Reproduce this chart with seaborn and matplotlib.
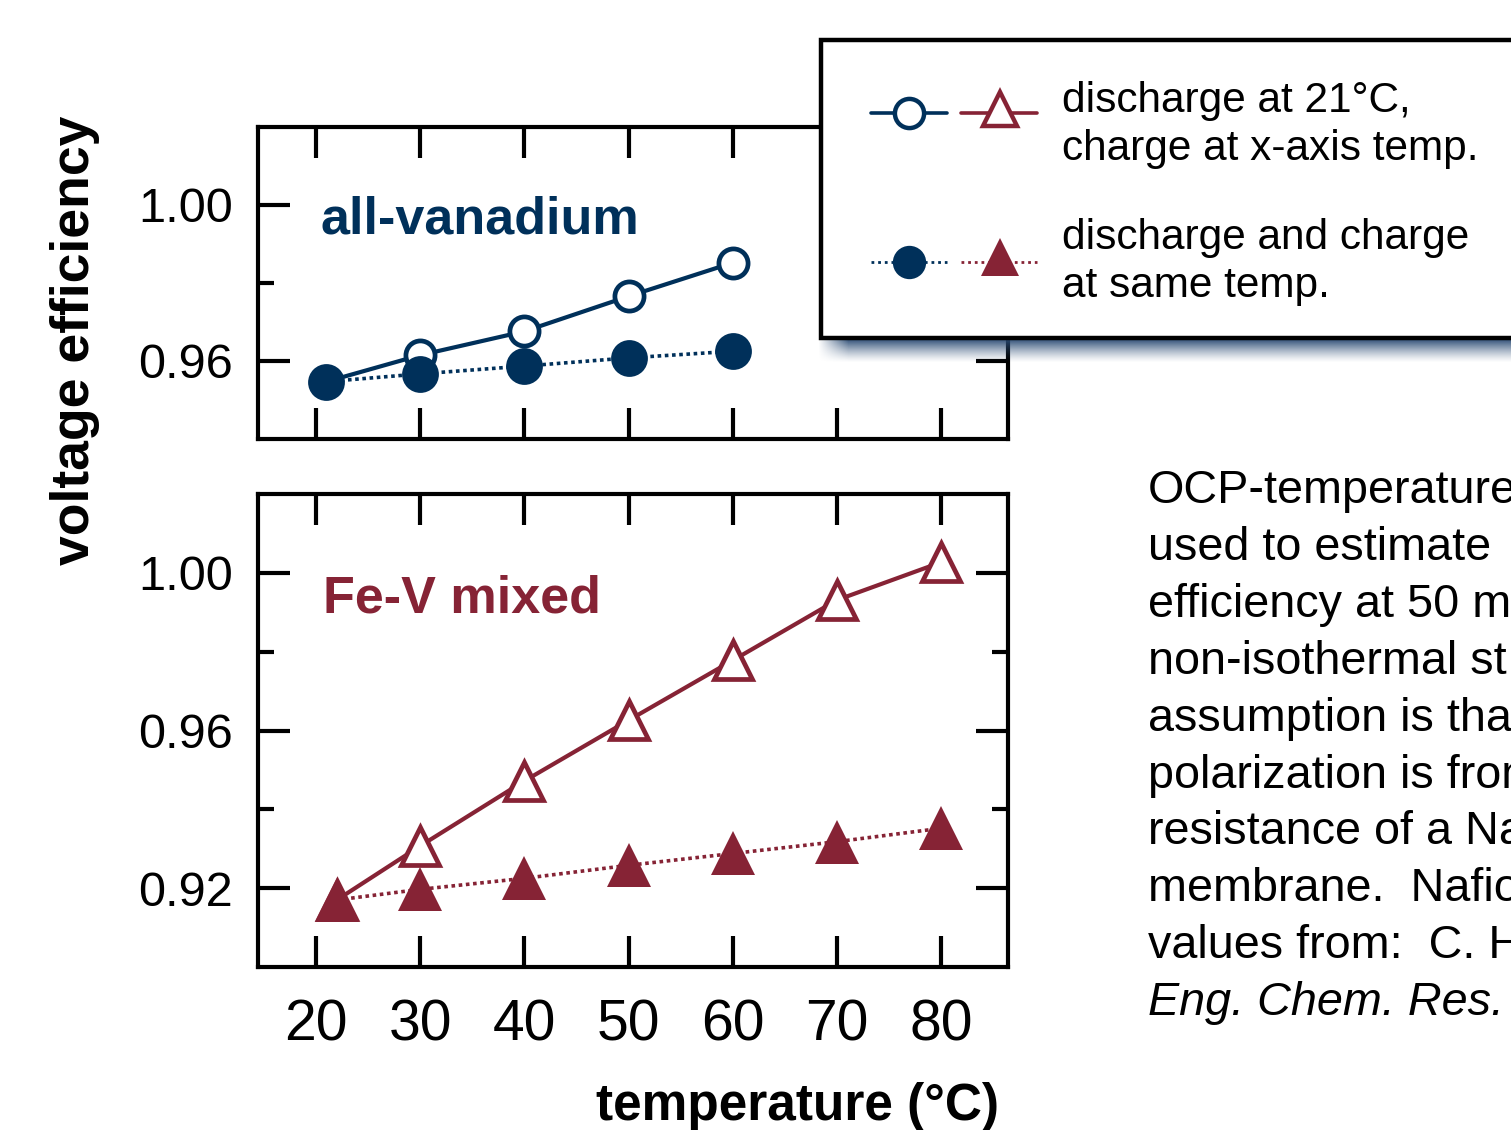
import numpy as np
import pandas as pd
import matplotlib
matplotlib.use("Agg")
import matplotlib.pyplot as plt
import seaborn as sns
from matplotlib.patches import Rectangle
from matplotlib.ticker import FixedLocator, FormatStrFormatter

# ---------------- data ----------------
temps_v = [21, 30, 40, 50, 60]
v_open = [0.9547, 0.9615, 0.9676, 0.9766, 0.9852]      # discharge 21C, charge at T
v_filled = [0.9547, 0.9567, 0.9587, 0.9608, 0.9625]    # same temperature

temps_f = [22, 30, 40, 50, 60, 70, 80]
f_open = [0.9170, 0.9307, 0.9472, 0.9626, 0.9778, 0.9931, 1.0027]
f_filled = [0.9170, 0.9197, 0.9225, 0.9258, 0.9288, 0.9318, 0.9352]

xticks = [20, 30, 40, 50, 60, 70, 80]
yticks_top = [0.96, 1.00]
yminor_top = [0.98]
yticks_bot = [0.92, 0.96, 1.00]
yminor_bot = [0.94, 0.98]

panel_labels = ["all-vanadium", "Fe-V mixed"]
x_label = "temperature (°C)"
y_label = "voltage efficiency"
legend_labels = ["discharge at 21°C,\ncharge at x-axis temp.",
                 "discharge and charge\nat same temp."]
# side note (the slide crops it at the right edge)
note_lines = ["OCP-temperature",
              "used to estimate",
              "efficiency at 50 mA",
              "non-isothermal st",
              "assumption is that",
              "polarization is from",
              "resistance of a Na",
              "membrane.  Nafion",
              "values from:  C. H",
              "Eng. Chem. Res."]

NAVY = "#00305A"
MAROON = "#862335"

# ---------------- style ----------------
sns.set_style("white")
plt.rcParams['font.family'] = ['Liberation Sans', 'DejaVu Sans']

W, H = 1511, 1130
fig = plt.figure(figsize=(W / 100, H / 100), dpi=100)


def px_axes(l, t, r, b, **kw):
    return fig.add_axes([l / W, 1 - b / H, (r - l) / W, (b - t) / H], **kw)


ax1 = px_axes(258, 127, 1008, 439)
ax2 = px_axes(258, 494, 1008, 967)

df_v = pd.DataFrame({"temperature": temps_v, "open": v_open, "filled": v_filled})
df_f = pd.DataFrame({"temperature": temps_f, "open": f_open, "filled": f_filled})

solid_lw = 3.0
dot_ls = (0, (1.0, 1.0))
dot_lw = 2.6

# all-vanadium
sns.lineplot(data=df_v, x="temperature", y="open", ax=ax1, color=NAVY,
             linewidth=solid_lw, marker='o', markersize=21, markerfacecolor='white',
             markeredgecolor=NAVY, markeredgewidth=3.4, legend=False, errorbar=None,
             zorder=3)
sns.lineplot(data=df_v, x="temperature", y="filled", ax=ax1, color=NAVY,
             linewidth=dot_lw, linestyle=dot_ls, marker='o', markersize=26.5,
             markerfacecolor=NAVY, markeredgecolor=NAVY, markeredgewidth=0,
             legend=False, errorbar=None, zorder=4)

# Fe-V mixed
sns.lineplot(data=df_f, x="temperature", y="open", ax=ax2, color=MAROON,
             linewidth=solid_lw, marker='^', markersize=27, markerfacecolor='white',
             markeredgecolor=MAROON, markeredgewidth=3.4, legend=False, errorbar=None,
             zorder=3)
sns.lineplot(data=df_f, x="temperature", y="filled", ax=ax2, color=MAROON,
             linewidth=dot_lw, linestyle=dot_ls, marker='^', markersize=32,
             markerfacecolor=MAROON, markeredgecolor=MAROON, markeredgewidth=0,
             legend=False, errorbar=None, zorder=4)

for ax in (ax1, ax2):
    ax.set_xlabel("")
    ax.set_ylabel("")
    ax.set_xlim(14.44, 86.4)
    ax.set_xticks(xticks)
    for sp in ax.spines.values():
        sp.set_visible(True)
        sp.set_linewidth(3)
        sp.set_color("black")
    ax.tick_params(axis='both', which='both', direction='in', top=True,
                   bottom=True, left=True, right=True, width=3, color='black',
                   labelcolor='black')
    ax.tick_params(axis='x', which='major', length=22, labelsize=41, pad=23)
    ax.tick_params(axis='y', which='major', length=23, labelsize=35, pad=18)
    ax.tick_params(axis='y', which='minor', length=11.5)
    ax.yaxis.set_major_formatter(FormatStrFormatter('%.2f'))
    ax.grid(False)

ax1.set_ylim(0.94, 1.02)
ax1.set_yticks(yticks_top)
ax1.yaxis.set_minor_locator(FixedLocator(yminor_top))
ax1.tick_params(axis='x', labelbottom=False)

ax2.set_ylim(0.90, 1.02)
ax2.set_yticks(yticks_bot)
ax2.yaxis.set_minor_locator(FixedLocator(yminor_bot))

# panel labels
ax1.text(0.083, 0.66, panel_labels[0], transform=ax1.transAxes, fontsize=37.5,
         fontweight='bold', color=NAVY, ha='left', va='baseline')
ax2.text(0.087, 0.75, panel_labels[1], transform=ax2.transAxes, fontsize=37.5,
         fontweight='bold', color=MAROON, ha='left', va='baseline')

# axis labels
ax2.set_xlabel(x_label, fontsize=37, fontweight='bold', color='black')
ax2.xaxis.set_label_coords((797 - 258) / 750, (967 - 1082) / 473)
ax2.xaxis.label.set_va('top')
fig.text(75 / W, 1 - 340 / H, y_label, rotation=90, ha='center', va='center',
         fontsize=38.5, fontweight='bold', color='black')

# ---------------- overlay: legend box, shadow, note ----------------
ov = fig.add_axes([0, 0, 1, 1], zorder=10)
ov.patch.set_alpha(0)
ov.axis('off')

# shadow under the legend box
sh_h = 24
x0, x1 = 818, W
ys = np.arange(sh_h)
alpha_y = np.clip(1 - ys / sh_h, 0, 1) ** 1.3
xs = np.arange(x1 - x0)
alpha_x = np.clip(xs / 30.0, 0, 1)
rgba = np.zeros((sh_h, x1 - x0, 4))
rgba[..., 0] = 0.16
rgba[..., 1] = 0.29
rgba[..., 2] = 0.45
rgba[..., 3] = alpha_y[:, None] * alpha_x[None, :]
ov.imshow(rgba, extent=(x0, x1, 338 + sh_h, 338), interpolation='bilinear',
          aspect='auto', zorder=1)

ov.add_patch(Rectangle((821, 40), W + 30 - 821, 298, facecolor='white',
                       edgecolor='black', linewidth=3.2, zorder=2))

# legend handles
ov.plot([871, 947], [113, 113], color=NAVY, lw=2.6, zorder=3)
ov.plot([909], [113], marker='o', ms=21, mfc='white', mec=NAVY, mew=3.2, zorder=4)
ov.plot([961, 1037], [113, 113], color=MAROON, lw=2.6, zorder=3)
ov.plot([1000], [109], marker='^', ms=25, mfc='white', mec=MAROON, mew=3.2, zorder=4)

ov.plot([871, 947], [262, 262], color=NAVY, lw=2.0, linestyle=(0, (1.0, 1.4)), zorder=3)
ov.plot([909], [262], marker='o', ms=24, mfc=NAVY, mec=NAVY, mew=0, zorder=4)
ov.plot([961, 1037], [262, 262], color=MAROON, lw=2.0, linestyle=(0, (1.0, 1.4)), zorder=3)
ov.plot([1000], [257], marker='^', ms=28, mfc=MAROON, mec=MAROON, mew=0, zorder=4)

row_base = [112, 249]
for lab, yb in zip(legend_labels, row_base):
    for i, line in enumerate(lab.split("\n")):
        ov.text(1062, yb + i * 48, line, fontsize=30.5, ha='left', va='baseline',
                color='black', zorder=5)

# side note
for i, line in enumerate(note_lines):
    style = 'italic' if i == len(note_lines) - 1 else 'normal'
    ov.text(1148, 503 + i * 56.9, line, fontsize=33.7, ha='left', va='baseline',
            color='black', fontstyle=style, zorder=5)

ov.set_xlim(0, W)
ov.set_ylim(H, 0)

fig.savefig("out.png", dpi=100)
